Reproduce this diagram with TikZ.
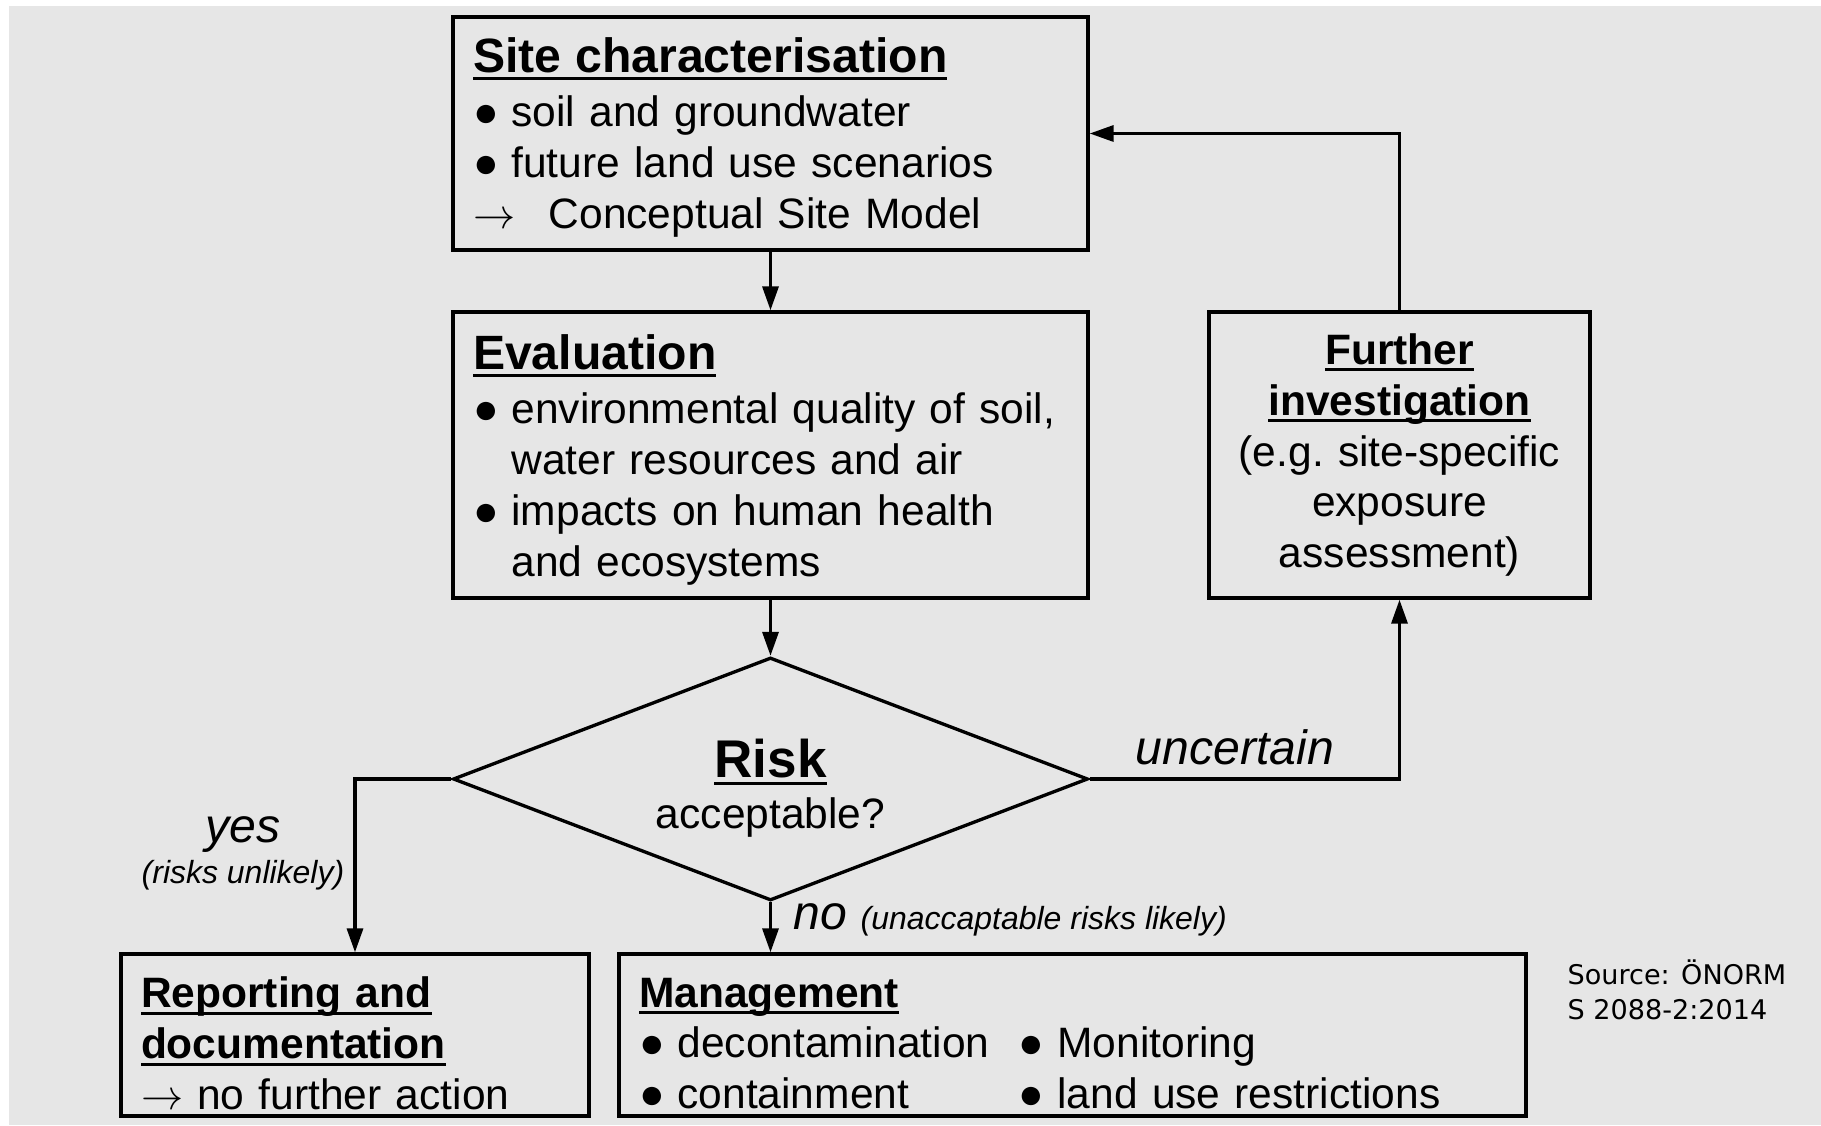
\documentclass[tikz,border=0pt]{standalone}
\usepackage{fontspec}
\setmainfont{Liberation Sans}
\newfontfamily\srcfont{DejaVu Sans}
\usetikzlibrary{arrows.meta,shapes.geometric}

\definecolor{bggray}{RGB}{230,230,230}

% underlined bold headings and bullet items
\newcommand{\hd}[1]{\leavevmode{\bfseries\setbox0\hbox{#1}\rlap{\rule[-2.1pt]{\wd0}{0.85pt}}\box0}}
\newcommand{\bul}{\makebox[0.385cm][l]{●}}
\newcommand{\ind}{\hspace*{0.385cm}}
% invisible strut that makes the first line taller
\newcommand{\up}[1]{\rule{0pt}{#1}}

\tikzset{
	box/.style={draw,line width=0.95pt,fill=bggray,rectangle,inner xsep=0.2cm,inner ysep=0pt,
		align=left,font=\fontsize{12.1}{14.5}\selectfont},
	decision/.style={draw,line width=0.95pt,fill=bggray,diamond,aspect=2.6,inner sep=0pt,
		minimum width=6.35cm,minimum height=2.43cm,align=center,
		font=\fontsize{12.1}{14.5}\selectfont},
	arr/.style={line width=0.95pt,-{Triangle[length=0.24cm,width=0.16cm]}},
	lbl/.style={inner sep=0pt,font=\fontsize{13.7}{16}\selectfont\itshape},
	small/.style={inner sep=0pt,font=\fontsize{9.1}{11}\selectfont\itshape}
}

\begin{document}
\begin{tikzpicture}
	% Background:
	% white page with a light gray panel, the picture size is fixed here
	\fill [white] (0,0) rectangle (18.21,11.25);
	\fill [bggray] (0.09,0) rectangle (18.21,11.19);
	\useasboundingbox (0,0) rectangle (18.21,11.25);

	% Boxes:
	% every box is a node at its centre, the width comes from `text width`
	\node [box,text width=5.95cm,minimum height=2.33cm] (site) at (7.705,9.915)
		{{\fontsize{13.7}{14.5}\selectfont\up{12.3pt}\hd{Site characterisation}}\\[1pt]
		\bul soil and groundwater\\
		\bul future land use scenarios\\
		$\rightarrow$\hspace{0.335cm}Conceptual Site Model};

	\node [box,text width=5.95cm,minimum height=2.86cm] (eval) at (7.705,6.70)
		{{\fontsize{13.7}{14.5}\selectfont\up{12.8pt}\hd{Evaluation}}\\[1pt]
		\bul environmental quality of soil,\\
		\ind water resources and air\\
		\bul impacts on human health\\
		\ind and ecosystems};

	\node [box,align=center,text width=3.41cm,minimum height=2.86cm] (further) at (13.995,6.70)
		{\hd{Further}\\ \hd{investigation}\\ (e.g.\ site-specific\\ exposure\\ assessment)};

	\node [decision] (risk) at (7.705,3.46)
		{{\fontsize{15.1}{14.5}\selectfont\up{16.2pt}\hd{Risk}}\\ acceptable?};

	\node [box,text width=4.28cm,minimum height=1.62cm] (report) at (3.55,0.90)
		{\up{13.3pt}\hd{Reporting and}\\ \hd{documentation}\\ $\rightarrow$ no further action};

	\node [box,text width=8.67cm,minimum height=1.62cm] (mgmt) at (10.725,0.90)
		{\up{13.2pt}\hd{Management}\\
		\makebox[3.80cm][l]{\bul decontamination}\bul Monitoring\\
		\makebox[3.80cm][l]{\bul containment}\bul land use restrictions};

	% Connectors:
	\draw [arr] (site) -- (eval);
	\draw [arr] (eval) -- (risk);
	\draw [arr] (risk.west) -| (report);
	\draw [arr] (risk.south) -- (risk.south |- mgmt.north);
	\draw [arr] (risk.east) -| (further);
	\draw [arr] (further) |- (site);

	% Labels of the decisions:
	\node [lbl] (yes) at (2.43,2.90) {yes};
	\node [small] (yesnote) at (2.43,2.50) {(risks unlikely)};
	\node [lbl,anchor=west] (no) at (7.93,2.05)
		{no {\fontsize{9.1}{11}\selectfont(unaccaptable risks likely)}};
	\node [lbl] (unc) at (12.35,3.78) {uncertain};

	\node [inner sep=0pt,anchor=west,align=left,font=\srcfont\fontsize{7.7}{10}\selectfont]
		(source) at (15.67,1.355) {Source: ÖNORM\\S 2088-2:2014};
\end{tikzpicture}
\end{document}
